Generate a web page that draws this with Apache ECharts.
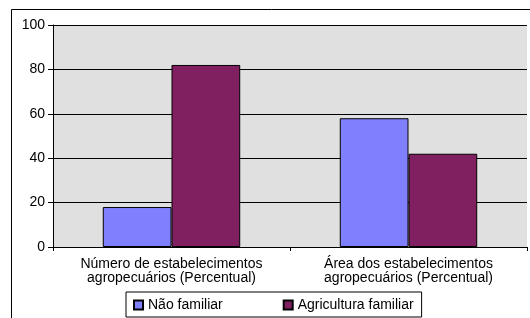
<!DOCTYPE html>
<html>
<head>
<meta charset="utf-8">
<script src="https://cdn.jsdelivr.net/npm/echarts@6/dist/echarts.min.js"></script>
<style>
  html, body { margin: 0; padding: 0; background: #fff; }
  #chart { width: 530px; height: 318px; }
</style>
</head>
<body>
<div id="chart"></div>
<script>
// dados
var categorias = ['Número de estabelecimentos\nagropecuários (Percentual)', 'Área dos estabelecimentos\nagropecuários (Percentual)'];
var naoFamiliar = [18, 58];
var agriculturaFamiliar = [82, 42];
var seriesNomes = ['Não familiar', 'Agricultura familiar'];

var fonte = '"Liberation Sans", Arial, sans-serif';

var chart = echarts.init(document.getElementById('chart'), null, { renderer: 'canvas' });

chart.setOption({
  animation: false,
  color: ['#8080FF', '#802060'],
  textStyle: { fontFamily: fonte },
  graphic: [{
    type: 'rect',
    shape: { x: 11.5, y: 9.5, width: 600, height: 400 },
    style: { fill: 'none', stroke: '#000', lineWidth: 1 },
    z: -1
  }],
  grid: {
    left: 53,
    top: 25,
    width: 474,
    height: 222,
    show: true,
    backgroundColor: '#e0e0e0',
    borderWidth: 0
  },
  legend: {
    left: 126,
    top: 292,
    itemWidth: 9,
    itemHeight: 9,
    itemGap: 60,
    padding: [6, 8, 5, 7],
    borderColor: '#000',
    borderWidth: 1,
    icon: 'rect',
    textStyle: { fontSize: 14, color: '#000', fontFamily: fonte },
    data: seriesNomes
  },
  xAxis: {
    type: 'category',
    data: categorias,
    axisLine: { lineStyle: { color: '#000', width: 1 } },
    axisTick: { show: true, length: 4, lineStyle: { color: '#000' } },
    axisLabel: {
      color: '#000',
      fontSize: 14,
      lineHeight: 14,
      margin: 10,
      fontFamily: fonte,
      interval: 0
    }
  },
  yAxis: {
    type: 'value',
    min: 0,
    max: 100,
    interval: 20,
    axisLine: { show: true, lineStyle: { color: '#000', width: 1 } },
    axisTick: { show: true, length: 5, lineStyle: { color: '#000' } },
    axisLabel: { color: '#000', fontSize: 14, margin: 8, fontFamily: fonte },
    splitLine: { show: true, lineStyle: { color: '#000', width: 1 } }
  },
  series: [
    {
      name: seriesNomes[0],
      type: 'bar',
      data: naoFamiliar,
      barGap: '0%',
      barCategoryGap: '42%',
      itemStyle: { borderColor: '#000', borderWidth: 1 }
    },
    {
      name: seriesNomes[1],
      type: 'bar',
      data: agriculturaFamiliar,
      barGap: '0%',
      barCategoryGap: '42%',
      itemStyle: { borderColor: '#000', borderWidth: 1 }
    }
  ]
});
</script>
</body>
</html>
